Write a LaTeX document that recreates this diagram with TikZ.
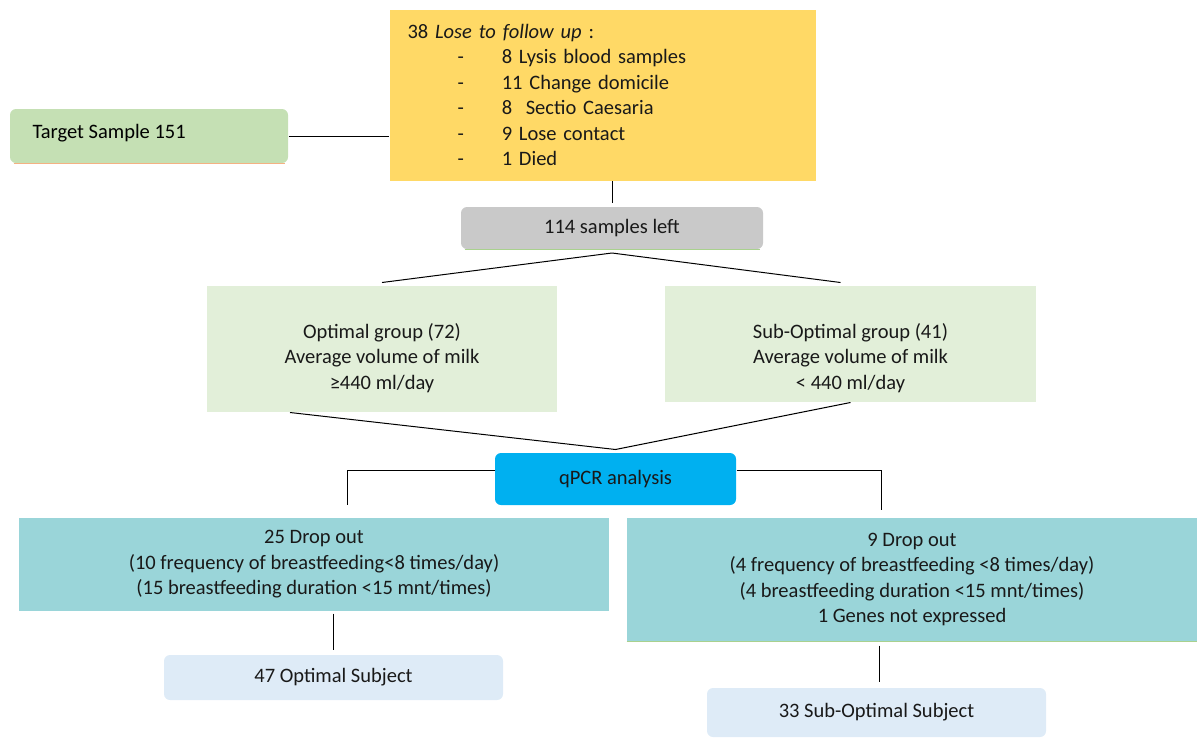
\documentclass[tikz,border=0pt]{standalone}
\usepackage{fontspec}
\setmainfont{Carlito}
\usetikzlibrary{positioning}
\definecolor{targetgreen}{HTML}{C5E0B4}
\definecolor{loseyellow}{HTML}{FFD966}
\definecolor{leftgray}{HTML}{C9C9C9}
\definecolor{groupgreen}{HTML}{E2EFD9}
\definecolor{qpcrblue}{HTML}{00B0F0}
\definecolor{dropteal}{HTML}{9AD5D9}
\definecolor{subjblue}{HTML}{DEEBF7}
\definecolor{edgesalmon}{HTML}{F4B183}
\definecolor{edgegreen}{HTML}{A9D18E}

\begin{document}
\begin{tikzpicture}[x=1pt, y=-1pt, font=\fontsize{20.5}{25.5}\selectfont, line width=1pt,
    box/.style = {inner sep=0pt, align=center, text=black!90},
    soft/.style = {box, rounded corners=6pt}]
    \useasboundingbox (0,0) rectangle (1197,737);
    % first row
    \node[soft, fill=targetgreen, minimum width=278, minimum height=54] (target) at (149,136) {};
    \node[anchor=west, inner sep=0pt] (targettxt) at (32,133) {Target Sample 151};
    \node[box, fill=loseyellow, minimum width=408, minimum height=171, align=left, anchor=north west, text width=390, inner xsep=18pt] (lose) at (389,9)
        {38 \textit{Lose to follow up} :\\
         \hspace*{50pt}-\hspace*{38pt}8 Lysis blood samples\\
         \hspace*{50pt}-\hspace*{38pt}11 Change domicile\\
         \hspace*{50pt}-\hspace*{38pt}8~ Sectio Caesaria\\
         \hspace*{50pt}-\hspace*{38pt}9 Lose contact\\
         \hspace*{50pt}-\hspace*{38pt}1 Died};
    \node[soft, fill=leftgray, minimum width=302, minimum height=42] (left) at (612,228) {114 samples left};
    % groups
    \node[box, fill=groupgreen, minimum width=350, minimum height=126] (opt) at (382,349) {};
    \node[box] (opttxt) at (382,358) {Optimal group (72)\\Average volume of milk\\≥440 ml/day};
    \node[box, fill=groupgreen, minimum width=371, minimum height=116] (sub) at (850.5,344) {};
    \node[box] (subtxt) at (850.5,358) {Sub-Optimal group (41)\\Average volume of milk\\< 440 ml/day};
    \node[soft, fill=qpcrblue, minimum width=241, minimum height=52] (qpcr) at (615.5,479) {qPCR analysis};
    % drop outs
    \node[box, fill=dropteal, minimum width=590, minimum height=93] (dropl) at (314,564.5)
        {25 Drop out\\(10 frequency of breastfeeding<8 times/day)\\(15 breastfeeding duration <15 mnt/times)};
    \node[box, fill=dropteal, minimum width=570, minimum height=123] (dropr) at (912,579.5)
        {9 Drop out\\(4 frequency of breastfeeding <8 times/day)\\(4 breastfeeding duration <15 mnt/times)\\1 Genes not expressed};
    \node[soft, fill=subjblue, minimum width=339, minimum height=45] (optsubj) at (333.5,677.5) {47 Optimal Subject};
    \node[soft, fill=subjblue, minimum width=339, minimum height=49] (subsubj) at (876.5,712.5) {33 Sub-Optimal Subject};
    % bottom edges
    \draw[edgesalmon, line width=1.5pt] ([xshift=4pt]target.south west) -- ([xshift=-4pt]target.south east);
    \draw[edgegreen, line width=1.5pt] ([xshift=4pt]left.south west) -- ([xshift=-4pt]left.south east);
    \draw[edgegreen, line width=1pt] (dropr.south west) -- (dropr.south east);
    % connectors
    \coordinate (split) at (612,253);
    \coordinate (merge) at ([yshift=3pt]qpcr.north);
    \coordinate (dl) at (347,505);
    \coordinate (dr) at (881,510);
    \draw (target.east) -- (target.east -| lose.west);
    \draw (left.north |- lose.south) -- ([yshift=4pt]left.north);
    \draw ([yshift=3pt]opt.north) -- (split) -- ([xshift=-10pt, yshift=3pt]sub.north);
    \draw ([xshift=-92pt]opt.south) -- (merge) -- (sub.south);
    \draw ([yshift=9pt]qpcr.west) -| (dl);
    \draw ([yshift=9pt]qpcr.east) -| (dr);
    \draw ([yshift=-2pt]dropl.south -| optsubj.north) -- ([yshift=5pt]optsubj.north);
    \draw ([yshift=-4pt]dropr.south -| 879,0) -- ([yshift=6pt]subsubj.north -| 879,0);
\end{tikzpicture}
\end{document}
